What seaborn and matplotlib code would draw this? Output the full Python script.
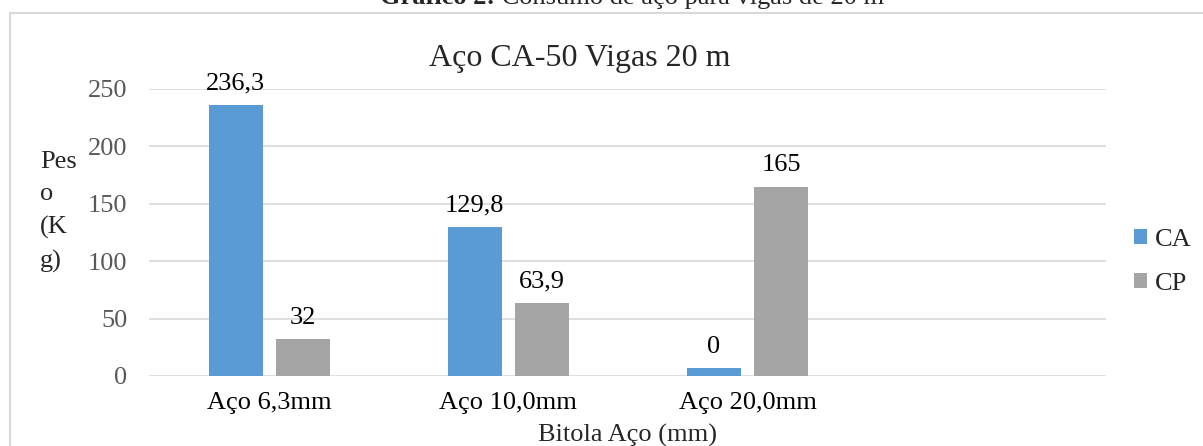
import matplotlib
matplotlib.use("Agg")
import matplotlib.pyplot as plt
import seaborn as sns
import pandas as pd
from matplotlib.lines import Line2D

# ---- data ----
categories = ["Aço 6,3mm", "Aço 10,0mm", "Aço 20,0mm", " "]
series = ["CA", "CP"]
ca_values = [236.3, 129.8, 7]
cp_values = [32, 63.9, 165]
ca_labels = ["236,3", "129,8", "0"]
cp_labels = ["32", "63,9", "165"]
y_ticks = [0, 50, 100, 150, 200, 250]

chart_title = "Aço CA-50 Vigas 20 m"
caption_bold = "Gráfico 2:"
caption_rest = " Consumo de aço para vigas de 20 m"
x_title = "Bitola Aço (mm)"
y_title = "Pes\no\n(K\ng)"

colors = ["#5B9BD5", "#A5A5A5"]

df = pd.DataFrame({
    "Bitola": categories[:3] * 2,
    "Peso": ca_values + cp_values,
    "Serie": [series[0]] * 3 + [series[1]] * 3,
})

sns.set_style("white")
plt.rcParams["font.family"] = ["Liberation Serif", "DejaVu Serif"]

W, H = 1203, 446
fig = plt.figure(figsize=(W / 100, H / 100), dpi=100)
ax = fig.add_axes([149.4 / W, 70 / H, (1106.4 - 149.4) / W, (376 - 89) / H])

sns.barplot(data=df, x="Bitola", y="Peso", hue="Serie", order=categories,
            hue_order=series, palette=colors, saturation=1, width=0.56,
            gap=0.194, errorbar=None, linewidth=0, ax=ax)

ax.set_ylim(0, 250)
ax.set_xlim(-0.5, len(categories) - 0.5)
ax.set_yticks(y_ticks)
ax.set_yticklabels([str(t) for t in y_ticks])
ax.yaxis.grid(True, color="#D9D9D9", linewidth=1.2)
ax.set_axisbelow(True)
for s in ax.spines.values():
    s.set_visible(False)
ax.tick_params(axis="y", length=0, pad=16, labelsize=19, labelcolor="#595959")
ax.tick_params(axis="x", length=0, pad=11.5, labelsize=19, labelcolor="#000000")
ax.set_ylabel("")
ax.set_xlabel(x_title, fontsize=19, labelpad=7)

for cont, labs in zip(ax.containers, [ca_labels, cp_labels]):
    ax.bar_label(cont, labels=labs, padding=7.3, fontsize=19, color="#000000")

handles, labels = ax.get_legend_handles_labels()
ax.legend(handles, labels, loc="center left",
          bbox_to_anchor=(1134 / W, 1 - 262 / H), bbox_transform=fig.transFigure,
          frameon=False, fontsize=19, handlelength=0.5, handleheight=0.5,
          handletextpad=0.3, labelspacing=0.82, borderpad=0, borderaxespad=0)

# chart title
fig.text(580 / W, 1 - 66 / H, chart_title, ha="center", va="baseline", fontsize=23)

# y title (wrapped)
fig.text(40 / W, 1 - 212 / H, y_title, ha="left", va="center", fontsize=19,
         linespacing=1.6)

# caption above the chart (partially cut, as in the source)
fig.canvas.draw()
r = fig.canvas.get_renderer()
t1 = fig.text(380 / W, 1 - 4 / H, caption_bold, ha="left", va="baseline",
              fontsize=19, fontweight="bold")
bb = t1.get_window_extent(renderer=r)
fig.text(bb.x1 / W, 1 - 4 / H, caption_rest, ha="left", va="baseline", fontsize=19)

# chart border (light gray, partially visible)
fig.add_artist(Line2D([9.5 / W, 1.0], [1 - 12.5 / H, 1 - 12.5 / H],
                      transform=fig.transFigure, color="#D9D9D9", linewidth=1.5))
fig.add_artist(Line2D([9.5 / W, 9.5 / W], [0, 1 - 12.5 / H],
                      transform=fig.transFigure, color="#D9D9D9", linewidth=1.5))

fig.savefig("out.png", dpi=100)
